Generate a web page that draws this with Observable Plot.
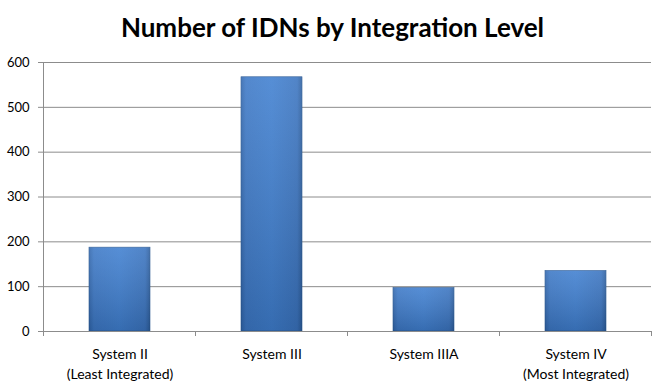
<!DOCTYPE html>
<html>
<head>
<meta charset="utf-8">
<script src="https://cdn.jsdelivr.net/npm/d3@7"></script>
<script src="https://cdn.jsdelivr.net/npm/@observablehq/plot@0.6"></script>
<style>
  html, body { margin: 0; padding: 0; background: #fff; }
  #title { width: 665px; height: 50px; text-align: center; font-family: Lato, sans-serif; font-weight: bold; font-size: 26px; line-height: 54px; color: #000; }
</style>
</head>
<body>
<div id="title">Number of IDNs by Integration Level</div>
<div id="chart"></div>
<script>
const categories = ["System II\n(Least Integrated)", "System III", "System IIIA", "System IV\n(Most Integrated)"];
const values = [187, 567, 97, 135];
const yTicks = [0, 100, 200, 300, 400, 500, 600];

const data = categories.map((c, i) => ({category: c, value: values[i]}));

const gradientDefs = () => {
  const defs = d3.create("svg:defs");
  const g = defs.append("linearGradient").attr("id", "barGrad").attr("x1", 0).attr("x2", 1).attr("y1", 0).attr("y2", 0);
  g.append("stop").attr("offset", "0%").attr("stop-color", "#2f65ac");
  g.append("stop").attr("offset", "8%").attr("stop-color", "#3c78c6");
  g.append("stop").attr("offset", "50%").attr("stop-color", "#3f7fd0");
  g.append("stop").attr("offset", "92%").attr("stop-color", "#3a74c0");
  g.append("stop").attr("offset", "100%").attr("stop-color", "#2c5e9f");
  const v = defs.append("linearGradient").attr("id", "barShade").attr("x1", 0).attr("x2", 0).attr("y1", 0).attr("y2", 1);
  v.append("stop").attr("offset", "0%").attr("stop-color", "#ffffff").attr("stop-opacity", 0.12);
  v.append("stop").attr("offset", "100%").attr("stop-color", "#000000").attr("stop-opacity", 0.15);
  return defs.node();
};

const boundaryTicks = (index, scales, values, dims) => {
  const g = d3.create("svg:g");
  const x0 = dims.marginLeft, x1 = dims.width - dims.marginRight;
  const y0 = dims.height - dims.marginBottom;
  const n = categories.length;
  for (let i = 0; i <= n; i++) {
    const x = x0 + (x1 - x0) * i / n;
    g.append("line").attr("x1", x).attr("x2", x).attr("y1", y0).attr("y2", y0 + 5)
      .attr("stroke", "#8c8c8c").attr("shape-rendering", "crispEdges");
  }
  return g.node();
};

const chart = Plot.plot({
  width: 665,
  height: 339,
  marginTop: 12,
  marginBottom: 58,
  marginLeft: 43,
  marginRight: 14,
  style: {fontFamily: "Lato, sans-serif", fontSize: "13px", color: "#000", background: "#fff"},
  x: {domain: categories, paddingInner: 0.6, paddingOuter: 0.3, label: null},
  y: {domain: [0, 600], ticks: yTicks, label: null},
  marks: [
    gradientDefs,
    Plot.gridY(yTicks, {stroke: "#8c8c8c", strokeOpacity: 1}),
    Plot.barY(data, {x: "category", y: "value", fill: "url(#barGrad)", stroke: "#2a578f", strokeWidth: 0.6}),
    Plot.barY(data, {x: "category", y: "value", fill: "url(#barShade)"}),
    Plot.axisY({ticks: yTicks, tickSize: 5, tickPadding: 9, stroke: "#8c8c8c", fontSize: 13}),
    Plot.axisX({tickSize: 0, tickPadding: 14, fontSize: 14, lineHeight: 1.39}),
    Plot.ruleY([0], {stroke: "#8c8c8c"}),
    boundaryTicks,
    (index, scales, values, dims) => {
      const x = dims.marginLeft;
      return d3.create("svg:line").attr("x1", x).attr("x2", x)
        .attr("y1", dims.marginTop).attr("y2", dims.height - dims.marginBottom)
        .attr("stroke", "#8c8c8c").attr("shape-rendering", "crispEdges").node();
    }
  ]
});
document.getElementById("chart").appendChild(chart);
</script>
</body>
</html>
